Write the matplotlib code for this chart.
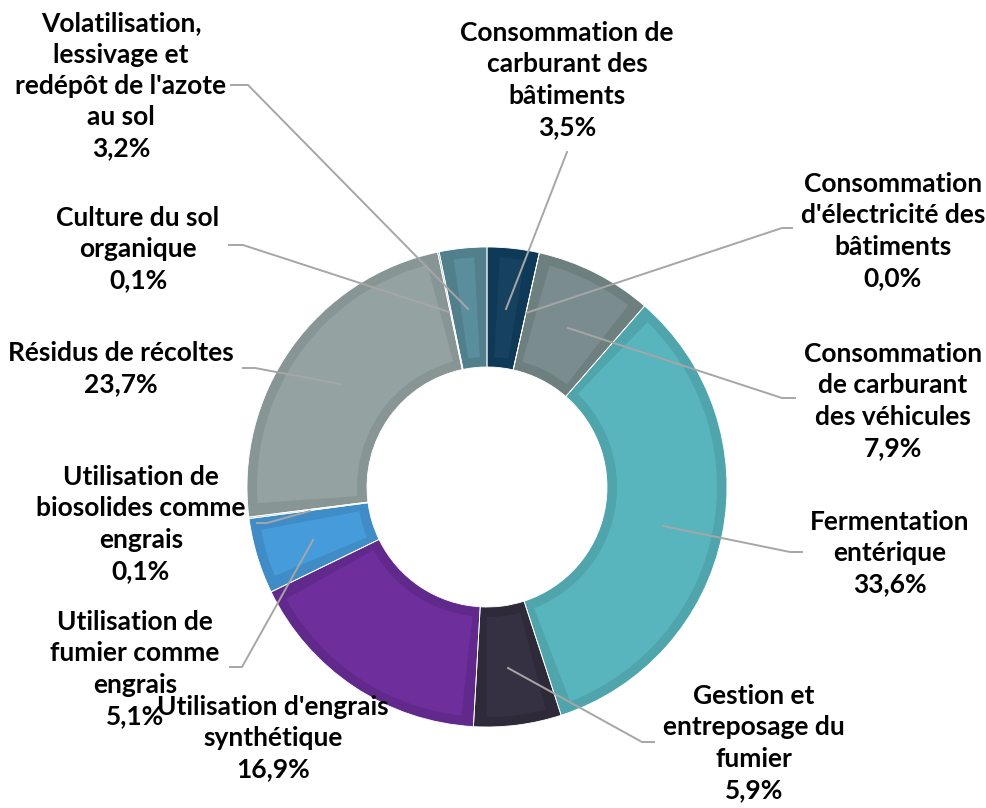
import matplotlib
matplotlib.use('Agg')
import matplotlib.pyplot as plt

# sources, clockwise from 12 o'clock
labels = ["Consommation de\ncarburant des\nbâtiments",
          "Consommation\nd'électricité des\nbâtiments",
          "Consommation\nde carburant\ndes véhicules",
          "Fermentation\nentérique",
          "Gestion et\nentreposage du\nfumier",
          "Utilisation d'engrais\nsynthétique",
          "Utilisation de\nfumier comme\nengrais",
          "Utilisation de\nbiosolides comme\nengrais",
          "Résidus de récoltes",
          "Culture du sol\norganique",
          "Volatilisation,\nlessivage et\nredépôt de l'azote\nau sol"]
shares = [3.5, 0.0, 7.9, 33.6, 5.9, 16.9, 5.1, 0.1, 23.7, 0.1, 3.2]

fills = ['#16425F', '#8A9A9B', '#7A8C8D', '#58B4BD', '#363142', '#6E2F9C',
         '#469BDA', '#9AA6A6', '#94A2A2', '#6F9AA6', '#5B8E9C']
borders = ['#0F3A57', '#7E8E8F', '#6E7F80', '#50A4AC', '#2E2A3A', '#62298C',
           '#3F8CC7', '#8C9999', '#879595', '#628E9A', '#517F8C']

H = 808

# label centre (px from top-left), leader line (label end -> elbow -> slice)
label_pos = [(567, 80), (893, 231), (893, 401), (890, 553), (754, 743),
             (273, 738), (135, 669), (141, 524), (121, 369), (138, 249),
             (121, 86)]
leaders = [[(567, 152), (506, 309)],
           [(792, 228), (782, 228), (526, 313)],
           [(795, 398), (782, 398), (568, 328)],
           [(802, 552), (790, 552), (663, 526)],
           [(654, 742), (642, 742), (508, 668)],
           None,
           [(230, 667), (242, 667), (313, 540)],
           [(257, 523), (267, 523), (310, 511)],
           [(243, 368), (255, 368), (340, 384)],
           [(229, 245), (243, 245), (449, 312)],
           [(231, 85), (248, 85), (468, 309)]]

fig = plt.figure(figsize=(9.86, 8.08), dpi=100)
ax = fig.add_axes([0, 0, 1, 1])

cx, cy = 487, H - 487
R, W = 240, 120
pad = 10  # inner border thickness, px

# darker border ring
ax.pie(shares, startangle=90, counterclock=False, center=(cx, cy),
       radius=R, colors=borders, wedgeprops=dict(width=W, linewidth=0))
# lighter inset of each slice
inner, _ = ax.pie(shares, startangle=90, counterclock=False, center=(cx, cy),
                  radius=R - pad, colors=fills,
                  wedgeprops=dict(width=W - 2 * pad, linewidth=0))
dang = pad / (R - W / 2) * 180 / 3.14159
for w in inner:
    if w.theta2 - w.theta1 > 2.5 * dang:
        w.set_theta1(w.theta1 + dang)
        w.set_theta2(w.theta2 - dang)
    else:
        w.set_visible(False)
# thin white separators
ax.pie(shares, startangle=90, counterclock=False, center=(cx, cy),
       radius=R, wedgeprops=dict(width=W, fill=False,
                                 edgecolor='white', linewidth=0.6))

for pts in leaders:
    if pts is None:
        continue
    xs = [p[0] for p in pts]
    ys = [H - p[1] for p in pts]
    ax.plot(xs, ys, color='#A6A6A6', lw=1.4, zorder=3)

for lab, v, (x, y) in zip(labels, shares, label_pos):
    txt = lab + '\n' + ('%.1f%%' % v).replace('.', ',')
    ax.text(x, H - y, txt, ha='center', va='center', fontsize=19,
            fontweight='bold', family=['Lato', 'DejaVu Sans'],
            linespacing=1.36, color='black', zorder=4)

ax.set_xlim(0, 986)
ax.set_ylim(0, H)
ax.set_aspect('equal')
ax.axis('off')

fig.savefig('out.png', dpi=100)
